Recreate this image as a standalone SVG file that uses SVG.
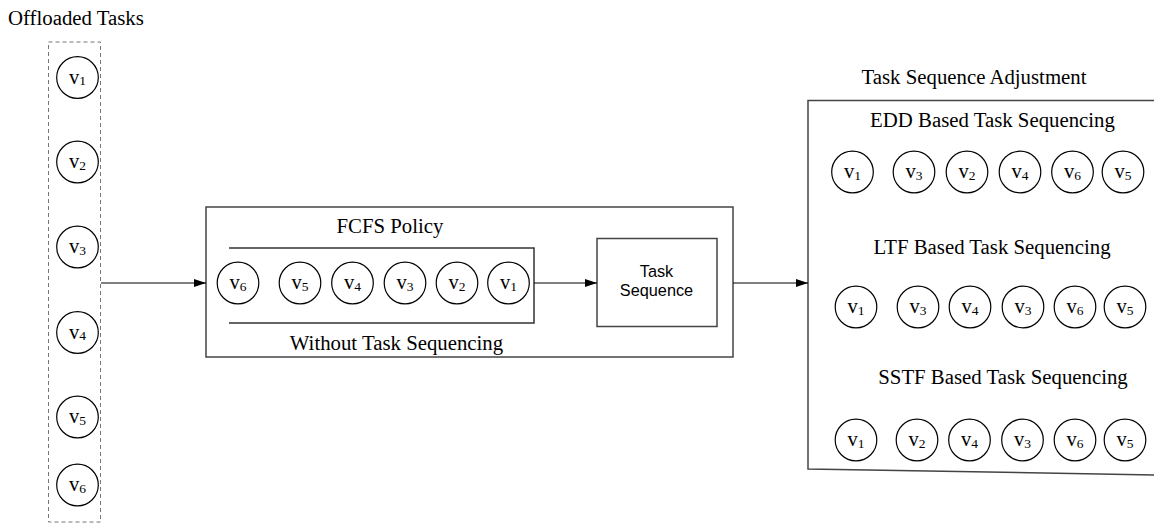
<svg xmlns="http://www.w3.org/2000/svg" width="1154" height="523" viewBox="0 0 1154 523">
<defs>
<style>
.lbl{font-family:"Liberation Serif","Times New Roman",serif;font-size:20.8px;fill:#000}
.v{font-family:"Liberation Serif","Times New Roman",serif;font-size:20.5px;fill:#000;text-anchor:middle}
.sub{font-size:13.5px}
.c{fill:#fff;stroke:#000;stroke-width:1.2}
.box{fill:none;stroke:#444;stroke-width:1.5}
.conn{fill:none;stroke:#000;stroke-width:1.2}
.sans{font-family:"Liberation Sans",Arial,sans-serif;font-size:16.3px;fill:#000;text-anchor:middle}
</style>
<marker id="ah" viewBox="0 0 12 8" refX="12" refY="4" markerWidth="12" markerHeight="8" markerUnits="userSpaceOnUse" orient="auto">
<path d="M0,0 L12,4 L0,8 Z" fill="#000"/>
</marker>
</defs>
<rect width="1154" height="523" fill="#fff"/>

<g id="offloaded-tasks">
<text class="lbl" x="8" y="25">Offloaded Tasks</text>
<rect x="48.5" y="42" width="52" height="480" fill="none" stroke="#777" stroke-width="1" stroke-dasharray="4,3"/>
<circle class="c" cx="77.5" cy="77.5" r="20.8"/><text class="v" x="77.5" y="83.5">v<tspan class="sub" dy="1.5">1</tspan></text>
<circle class="c" cx="77.5" cy="162" r="20.8"/><text class="v" x="77.5" y="168">v<tspan class="sub" dy="1.5">2</tspan></text>
<circle class="c" cx="77.5" cy="247" r="20.8"/><text class="v" x="77.5" y="253">v<tspan class="sub" dy="1.5">3</tspan></text>
<circle class="c" cx="77.5" cy="332.5" r="20.8"/><text class="v" x="77.5" y="338.5">v<tspan class="sub" dy="1.5">4</tspan></text>
<circle class="c" cx="77.5" cy="417" r="20.8"/><text class="v" x="77.5" y="423">v<tspan class="sub" dy="1.5">5</tspan></text>
<circle class="c" cx="77.5" cy="485" r="20.8"/><text class="v" x="77.5" y="491">v<tspan class="sub" dy="1.5">6</tspan></text>
</g>

<g id="fcfs-policy">
<rect class="box" x="206" y="207" width="527" height="150"/>
<text class="lbl" x="390" y="233" text-anchor="middle">FCFS Policy</text>
<path d="M229,248 H534 V323 H229" fill="none" stroke="#333" stroke-width="1.5"/>
<circle class="c" cx="238" cy="283" r="20.8"/><text class="v" x="238" y="289">v<tspan class="sub" dy="1.5">6</tspan></text>
<circle class="c" cx="300" cy="283" r="20.8"/><text class="v" x="300" y="289">v<tspan class="sub" dy="1.5">5</tspan></text>
<circle class="c" cx="352.5" cy="283" r="20.8"/><text class="v" x="352.5" y="289">v<tspan class="sub" dy="1.5">4</tspan></text>
<circle class="c" cx="405" cy="283" r="20.8"/><text class="v" x="405" y="289">v<tspan class="sub" dy="1.5">3</tspan></text>
<circle class="c" cx="457" cy="283" r="20.8"/><text class="v" x="457" y="289">v<tspan class="sub" dy="1.5">2</tspan></text>
<circle class="c" cx="508.5" cy="283" r="20.8"/><text class="v" x="508.5" y="289">v<tspan class="sub" dy="1.5">1</tspan></text>
<text class="lbl" x="396.5" y="350" text-anchor="middle">Without Task Sequencing</text>
</g>

<g id="task-sequence">
<rect class="box" x="597" y="238.5" width="120" height="88"/>
<text class="sans" x="656.5" y="277">Task</text>
<text class="sans" x="656.5" y="296">Sequence</text>
</g>

<g id="task-sequence-adjustment">
<text class="lbl" x="974" y="84" text-anchor="middle">Task Sequence Adjustment</text>
<path class="box" d="M1160,100.5 H808 V469 L1160,475"/>
<text class="lbl" x="992.5" y="127" text-anchor="middle">EDD Based Task Sequencing</text>
<circle class="c" cx="852.5" cy="172" r="20.8"/><text class="v" x="852.5" y="178">v<tspan class="sub" dy="1.5">1</tspan></text>
<circle class="c" cx="914" cy="172" r="20.8"/><text class="v" x="914" y="178">v<tspan class="sub" dy="1.5">3</tspan></text>
<circle class="c" cx="967" cy="172" r="20.8"/><text class="v" x="967" y="178">v<tspan class="sub" dy="1.5">2</tspan></text>
<circle class="c" cx="1020" cy="172" r="20.8"/><text class="v" x="1020" y="178">v<tspan class="sub" dy="1.5">4</tspan></text>
<circle class="c" cx="1072.5" cy="172" r="20.8"/><text class="v" x="1072.5" y="178">v<tspan class="sub" dy="1.5">6</tspan></text>
<circle class="c" cx="1123" cy="172" r="20.8"/><text class="v" x="1123" y="178">v<tspan class="sub" dy="1.5">5</tspan></text>

<text class="lbl" x="992" y="254" text-anchor="middle">LTF Based Task Sequencing</text>
<circle class="c" cx="856" cy="307" r="20.8"/><text class="v" x="856" y="313">v<tspan class="sub" dy="1.5">1</tspan></text>
<circle class="c" cx="918" cy="307" r="20.8"/><text class="v" x="918" y="313">v<tspan class="sub" dy="1.5">3</tspan></text>
<circle class="c" cx="970" cy="307" r="20.8"/><text class="v" x="970" y="313">v<tspan class="sub" dy="1.5">4</tspan></text>
<circle class="c" cx="1023" cy="307" r="20.8"/><text class="v" x="1023" y="313">v<tspan class="sub" dy="1.5">3</tspan></text>
<circle class="c" cx="1075" cy="307" r="20.8"/><text class="v" x="1075" y="313">v<tspan class="sub" dy="1.5">6</tspan></text>
<circle class="c" cx="1125" cy="307" r="20.8"/><text class="v" x="1125" y="313">v<tspan class="sub" dy="1.5">5</tspan></text>

<text class="lbl" x="1003" y="384" text-anchor="middle">SSTF Based Task Sequencing</text>
<circle class="c" cx="856" cy="440" r="20.8"/><text class="v" x="856" y="446">v<tspan class="sub" dy="1.5">1</tspan></text>
<circle class="c" cx="917" cy="440" r="20.8"/><text class="v" x="917" y="446">v<tspan class="sub" dy="1.5">2</tspan></text>
<circle class="c" cx="969.5" cy="440" r="20.8"/><text class="v" x="969.5" y="446">v<tspan class="sub" dy="1.5">4</tspan></text>
<circle class="c" cx="1022.5" cy="440" r="20.8"/><text class="v" x="1022.5" y="446">v<tspan class="sub" dy="1.5">3</tspan></text>
<circle class="c" cx="1075" cy="440" r="20.8"/><text class="v" x="1075" y="446">v<tspan class="sub" dy="1.5">6</tspan></text>
<circle class="c" cx="1125" cy="440" r="20.8"/><text class="v" x="1125" y="446">v<tspan class="sub" dy="1.5">5</tspan></text>
</g>

<g id="connectors">
<line class="conn" x1="101" y1="283" x2="206" y2="283" marker-end="url(#ah)"/>
<line class="conn" x1="534" y1="283" x2="597" y2="283" marker-end="url(#ah)"/>
<line class="conn" x1="733" y1="283" x2="808" y2="283" marker-end="url(#ah)"/>
</g>
</svg>
